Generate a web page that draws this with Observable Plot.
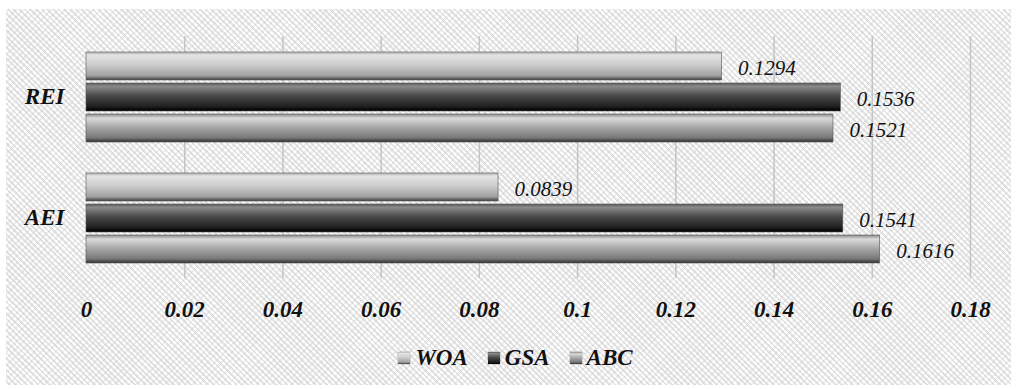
<!DOCTYPE html>
<html>
<head>
<meta charset="utf-8">
<script src="https://cdn.jsdelivr.net/npm/d3@7"></script>
<script src="https://cdn.jsdelivr.net/npm/@observablehq/plot@0.6"></script>
<style>
  html, body { margin: 0; padding: 0; background: #fff; width: 1017px; height: 389px; overflow: hidden; }
  #bg { position: absolute; left: 6px; top: 9px; width: 1005px; height: 376px;
    background:
      repeating-linear-gradient(45deg, rgba(255,255,255,0) 0px, rgba(255,255,255,0) 2px, rgba(205,205,205,0.55) 2px, rgba(205,205,205,0.55) 4px),
      repeating-linear-gradient(-45deg, #ffffff 0px, #ffffff 3px, #efefef 3px, #efefef 5px); }
  #chart { position: absolute; left: 0; top: 0; width: 1017px; }
  #legend { display: flex; justify-content: center; align-items: center; margin-top: 16px; margin-left: 14px;
    height: 24px; font-family: "Liberation Serif", serif; font-weight: bold; font-style: italic; font-size: 23px; color: #111; }
  .item { display: flex; align-items: center; margin: 0 10px; }
  .sw { width: 12px; height: 12px; margin-right: 5px; box-shadow: 0 0 1px #555; }
</style>
</head>
<body>
<div id="bg"></div>
<div id="chart"></div>
<script>
const categories = ["REI", "AEI"];
const series = ["WOA", "GSA", "ABC"];
const woaValues = [0.1294, 0.0839];
const gsaValues = [0.1536, 0.1541];
const abcValues = [0.1521, 0.1616];
const xTicks = [0, 0.02, 0.04, 0.06, 0.08, 0.1, 0.12, 0.14, 0.16, 0.18];
const xTickLabels = ["0", "0.02", "0.04", "0.06", "0.08", "0.1", "0.12", "0.14", "0.16", "0.18"];

const seriesValues = {WOA: woaValues, GSA: gsaValues, ABC: abcValues};
const data = categories.flatMap((c, i) => series.map(s => ({cat: c, s, v: seriesValues[s][i]})));

const gradients = {
  WOA: [[0, "#b4b4b4"], [0.12, "#e4e4e4"], [0.45, "#cdcdcd"], [0.85, "#a0a0a0"], [0.93, "#6a6a6a"], [1, "#444"]],
  GSA: [[0, "#5a5a5a"], [0.12, "#8a8a8a"], [0.45, "#4a4a4a"], [0.85, "#1e1e1e"], [0.93, "#0a0a0a"], [1, "#000"]],
  ABC: [[0, "#8a8a8a"], [0.15, "#dadada"], [0.45, "#ababab"], [0.85, "#787878"], [0.93, "#505050"], [1, "#333"]]
};

const font = {fontFamily: "Liberation Serif, serif", fontWeight: "bold", fontStyle: "italic", fontSize: "23px", color: "#111", background: "transparent", overflow: "visible"};

const chart = Plot.plot({
  width: 1017,
  height: 330,
  marginLeft: 86,
  marginRight: 47,
  marginTop: 35,
  marginBottom: 52,
  style: font,
  facet: {data: data, y: "cat"},
  fy: {domain: categories, padding: 0, axis: "left", tickSize: 0, tickPadding: 22, label: null},
  y: {domain: series, paddingInner: 0.111, paddingOuter: 0.484, axis: null},
  x: {domain: [0, 0.18], ticks: xTicks, tickFormat: d => xTickLabels[xTicks.findIndex(t => Math.abs(t - d) < 1e-9)], tickSize: 0, tickPadding: 22, label: null},
  marks: [
    Plot.ruleX(xTicks.filter(t => t > 0), {stroke: "#c4c4c4", strokeWidth: 1.5}),
    ...series.map(s => Plot.barX(data, {filter: d => d.s === s, x: "v", y: "s", fill: `url(#g${s})`, stroke: "#555", strokeWidth: 0.6})),
    Plot.text(data, {x: "v", y: "s", text: d => d.v.toFixed(4), dx: 16, dy: 2, textAnchor: "start", fontStyle: "italic", fontWeight: "normal", fontSize: 21, fill: "#111"})
  ]
});

const defs = d3.select(chart).insert("defs", ":first-child");
for (const s of series) {
  const g = defs.append("linearGradient").attr("id", "g" + s).attr("x1", 0).attr("y1", 0).attr("x2", 0).attr("y2", 1);
  for (const [o, c] of gradients[s]) g.append("stop").attr("offset", o).attr("stop-color", c);
}

const container = document.getElementById("chart");
container.appendChild(chart);

const legend = document.createElement("div");
legend.id = "legend";
for (const s of series) {
  const item = document.createElement("div");
  item.className = "item";
  const sw = document.createElement("span");
  sw.className = "sw";
  sw.style.background = "linear-gradient(to bottom, " + gradients[s].map(([o, c]) => c + " " + (o * 100) + "%").join(", ") + ")";
  const label = document.createElement("span");
  label.textContent = s;
  item.appendChild(sw);
  item.appendChild(label);
  legend.appendChild(item);
}
container.appendChild(legend);
</script>
</body>
</html>
